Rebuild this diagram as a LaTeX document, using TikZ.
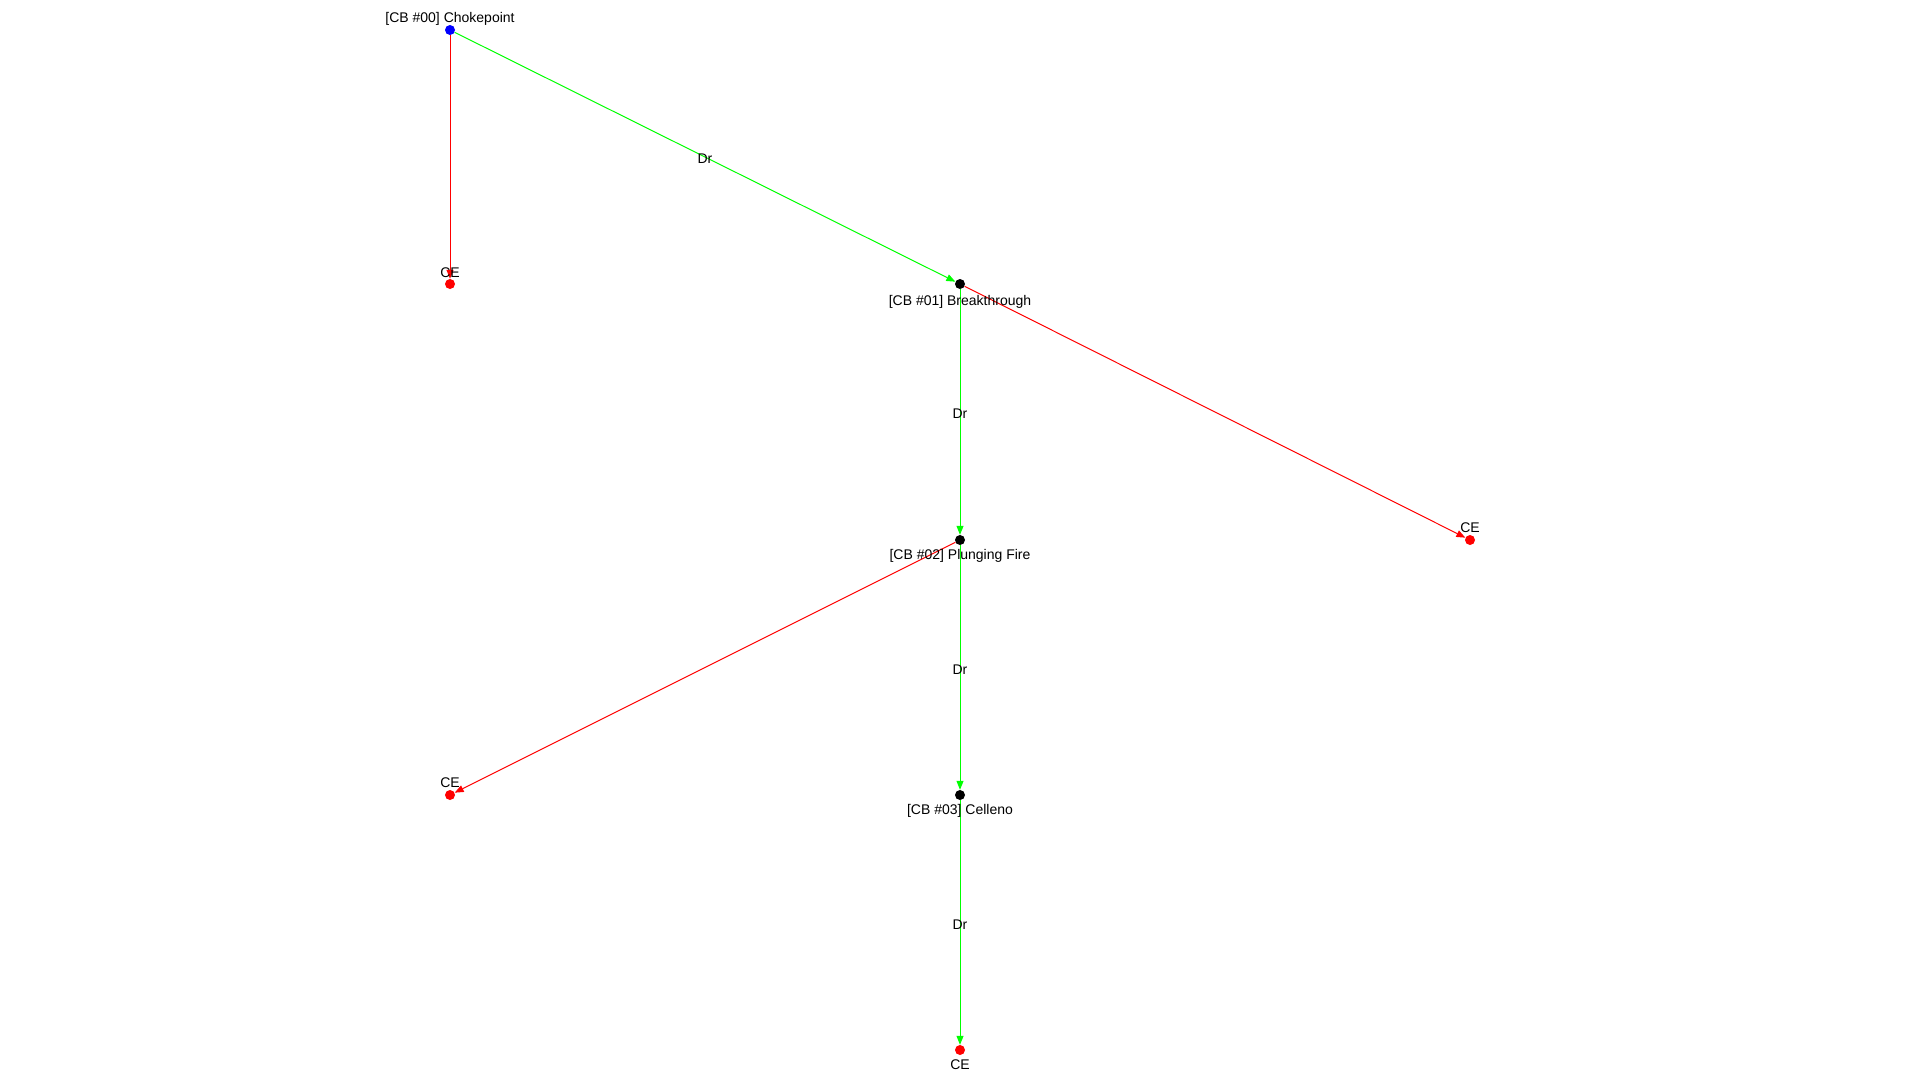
\documentclass[tikz,border=0pt]{standalone}
\usepackage{fontspec}
\setmainfont{Liberation Sans}
\usetikzlibrary{arrows.meta}
\definecolor{gr}{RGB}{0,255,0}
\definecolor{rd}{RGB}{255,0,0}
\definecolor{bl}{RGB}{0,0,255}
\tikzset{
  dot/.style={circle, inner sep=0pt, minimum size=10pt, draw=none},
  txt/.style={font=\fontsize{14pt}{16pt}\selectfont, inner sep=0pt, anchor=base},
  elbl/.style={font=\fontsize{14pt}{16pt}\selectfont, inner sep=0pt, yshift=-2pt},
  gedge/.style={draw=gr, line width=1pt, -{Triangle[length=9pt,width=7pt]}},
  redge/.style={draw=rd, line width=1pt, -{Triangle[length=9pt,width=7pt]}}
}
\begin{document}
\begin{tikzpicture}[x=1pt,y=-1pt]
\useasboundingbox[fill=white] (0,0) rectangle (1920,1080);
\node[dot, fill=bl] (n0) at (450,30) {};
\node[dot, fill=rd] (c0) at (450,284) {};
\node[dot, fill=black] (n1) at (960,284) {};
\node[dot, fill=black] (n2) at (960,540) {};
\node[dot, fill=rd] (c1) at (1470,540) {};
\node[dot, fill=rd] (c2) at (450,795) {};
\node[dot, fill=black] (n3) at (960,795) {};
\node[dot, fill=rd] (c3) at (960,1050) {};
\draw[redge] (n0) -- (c0);
\draw[gedge] (n0) -- node[elbl]{Dr} (n1);
\draw[gedge] (n1) -- node[elbl]{Dr} (n2);
\draw[redge] (n1) -- (c1);
\draw[gedge] (n2) -- node[elbl]{Dr} (n3);
\draw[redge] (n2) -- (c2);
\draw[gedge] (n3) -- node[elbl]{Dr} (c3);
\node[txt] (t0) at (450,22) {[CB \#00] Chokepoint};
\node[txt] (tc0) at (450,277) {CE};
\node[txt] (t1) at (960,305) {[CB \#01] Breakthrough};
\node[txt] (t2) at (960,559) {[CB \#02] Plunging Fire};
\node[txt] (tc1) at (1470,532) {CE};
\node[txt] (tc2) at (450,787) {CE};
\node[txt] (t3) at (960,814) {[CB \#03] Celleno};
\node[txt] (tc3) at (960,1069) {CE};
\end{tikzpicture}
\end{document}
